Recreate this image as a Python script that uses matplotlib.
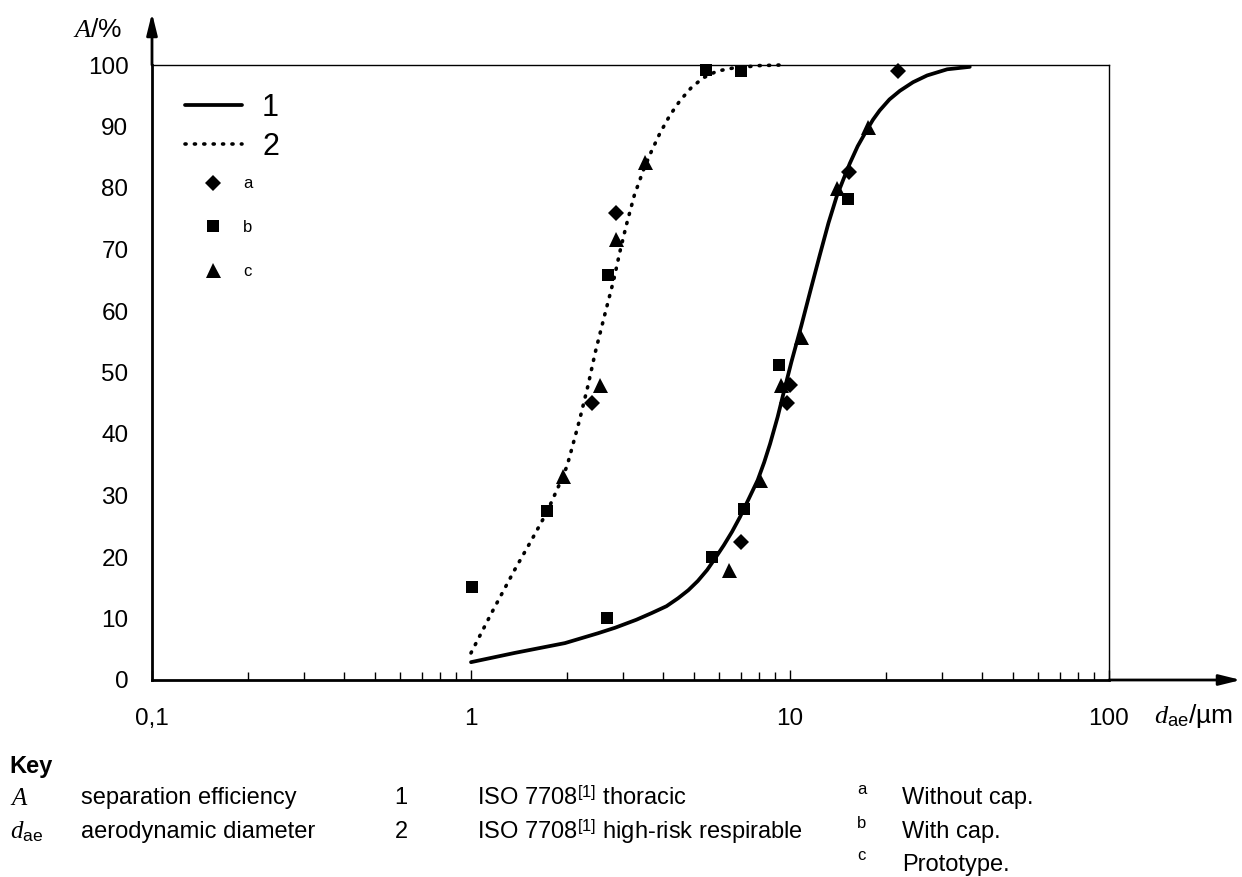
import matplotlib
matplotlib.use("Agg")
import matplotlib.pyplot as plt
from matplotlib.ticker import FixedLocator, FixedFormatter, LogLocator, NullFormatter

plt.rcParams['font.family'] = ['Liberation Sans', 'DejaVu Sans']
plt.rcParams['mathtext.fontset'] = 'custom'
plt.rcParams['mathtext.rm'] = 'Liberation Sans'
plt.rcParams['mathtext.it'] = 'Liberation Serif:italic'
plt.rcParams['mathtext.bf'] = 'Liberation Sans:bold'

# ---------------- data ----------------
thoracic_x = [1.0, 1.37, 1.97, 2.5, 2.83, 3.3, 3.69, 4.1, 4.46, 4.8, 5.14, 5.5, 5.81, 6.2,
              6.58, 6.97, 7.4, 7.92, 8.3, 8.66, 9.15, 9.55, 10.1, 10.85, 11.6, 12.4, 13.2,
              14.0, 14.7, 15.4, 16.3, 17.4, 18.2, 19.1, 20.5, 22.1, 24.3, 26.9, 31.1, 36.6]
thoracic_y = [2.9, 4.4, 6.0, 7.6, 8.5, 9.8, 10.9, 12.0, 13.3, 14.6, 16.1, 17.9, 19.7, 21.9,
              24.1, 26.5, 29.3, 32.5, 35.4, 38.4, 42.8, 46.7, 51.7, 57.6, 63.4, 69.1, 74.3,
              78.6, 81.4, 84.0, 86.8, 89.4, 91.1, 92.6, 94.4, 95.8, 97.2, 98.3, 99.3, 99.7]

respirable_x = [1.0, 1.16, 1.37, 1.55, 1.73, 1.90, 2.0, 2.07, 2.19, 2.33, 2.45, 2.62, 2.80,
                2.94, 3.07, 3.25, 3.47, 3.68, 3.91, 4.2, 4.52, 4.9, 5.34, 5.9, 6.62, 8.0, 9.4]
respirable_y = [4.4, 10.9, 17.9, 22.8, 27.3, 32.0, 34.8, 37.6, 42.3, 48.0, 53.2, 59.2, 65.0,
                70.0, 74.0, 78.8, 82.9, 86.0, 88.9, 91.8, 94.2, 96.3, 97.9, 99.0, 99.5, 99.9, 100.0]

a_x = [2.39, 2.85, 7.03, 9.8, 10.0, 15.3, 21.8]           # Without cap.
a_y = [45.0, 75.9, 22.4, 45.0, 48.0, 82.6, 99.1]
b_x = [1.01, 1.73, 2.69, 5.46, 7.0, 2.67, 5.69, 7.17, 9.25, 15.2]   # With cap.
b_y = [15.1, 27.5, 65.9, 99.2, 99.0, 10.1, 20.0, 27.8, 51.2, 78.2]
c_x = [1.94, 2.54, 2.85, 3.51, 6.44, 8.07, 9.4, 10.85, 14.0, 17.5]  # Prototype.
c_y = [33.2, 48.0, 71.7, 84.2, 17.9, 32.5, 48.0, 55.8, 80.0, 90.0]

curve_labels = ['1', '2']
marker_labels = ['a', 'b', 'c']
xtick_vals = [0.1, 1, 10, 100]
xtick_labels = ['0,1', '1', '10', '100']
ytick_vals = [0, 10, 20, 30, 40, 50, 60, 70, 80, 90, 100]

# ---------------- figure ----------------
W, H = 1242, 877
fig = plt.figure(figsize=(W / 100, H / 100), dpi=100)
fx = lambda px: px / W
fy = lambda py: 1 - py / H

ax = fig.add_axes([fx(152), fy(680), (1109 - 152) / W, (680 - 65) / H])
ax.set_xscale('log')
ax.set_xlim(0.1, 100)
ax.set_ylim(0, 100)

l1, = ax.plot(thoracic_x, thoracic_y, color='black', lw=2.7, solid_capstyle='round',
              solid_joinstyle='round', clip_on=False, zorder=3)
l2, = ax.plot(respirable_x, respirable_y, color='black', lw=2.6, linestyle=(0, (0.3, 2.3)),
              dash_capstyle='round', clip_on=False, zorder=3)

ma, = ax.plot(a_x, a_y, linestyle='none', marker='D', markersize=8.2, color='black',
              markeredgewidth=0, clip_on=False, zorder=4)
mb, = ax.plot(b_x, b_y, linestyle='none', marker='s', markersize=9.2, color='black',
              markeredgewidth=0, clip_on=False, zorder=4)
mc, = ax.plot(c_x, c_y, linestyle='none', marker='^', markersize=10.8, color='black',
              markeredgewidth=0, clip_on=False, zorder=4)

# spines
for s in ['left', 'bottom']:
    ax.spines[s].set_linewidth(2.0)
for s in ['top', 'right']:
    ax.spines[s].set_linewidth(1.0)

# ticks
ax.xaxis.set_major_locator(FixedLocator(xtick_vals))
ax.xaxis.set_major_formatter(FixedFormatter(xtick_labels))
ax.xaxis.set_minor_locator(LogLocator(base=10, subs=[2, 3, 4, 5, 6, 7, 8, 9]))
ax.xaxis.set_minor_formatter(NullFormatter())
ax.tick_params(axis='x', which='major', direction='in', length=7.5, width=1.0,
               labelsize=17.5, pad=20)
ax.tick_params(axis='x', which='minor', direction='in', length=6, width=1.0)
ax.set_yticks(ytick_vals)
ax.tick_params(axis='y', which='both', length=0, labelsize=17.5, pad=17)
ax.tick_params(top=False, right=False)

# axis arrows
arrow_kw = dict(arrowstyle='-|>,head_length=0.65,head_width=0.16', color='black', lw=2.0,
                shrinkA=0, shrinkB=0, mutation_scale=20)
ax.annotate('', xy=(0, (680 - 13) / 615), xytext=(0, 1.0), xycoords='axes fraction',
            arrowprops=arrow_kw)
ax.annotate('', xy=((1241 - 152) / 957, 0), xytext=(1.0, 0), xycoords='axes fraction',
            arrowprops=arrow_kw)

# axis labels
fig.text(fx(97.5), fy(30), r'$\mathit{A}$/%', fontsize=19, ha='center', va='center')
fig.text(fx(1154), fy(716), r'$\mathit{d}_{\mathrm{ae}}$/µm', fontsize=19, ha='left',
         va='center')

# legends
leg1 = ax.legend(handles=[l1, l2], labels=curve_labels, loc='upper left',
                 bbox_to_anchor=(fx(185), fy(93)), bbox_transform=fig.transFigure,
                 frameon=False, fontsize=22, handlelength=1.87, handletextpad=0.65,
                 labelspacing=0.28, borderpad=0, borderaxespad=0)
ax.add_artist(leg1)
leg2 = ax.legend(handles=[ma, mb, mc], labels=marker_labels, loc='upper left',
                 bbox_to_anchor=(fx(196.5), fy(176.5)), bbox_transform=fig.transFigure,
                 frameon=False, fontsize=12, handlelength=2.0, handletextpad=0.8,
                 labelspacing=1.72, borderpad=0, borderaxespad=0, numpoints=1)

# key
ks = 17
fig.text(fx(9), fy(766), 'Key', fontsize=ks, fontweight='bold', ha='left', va='center')
fig.text(fx(10), fy(798), r'$\mathit{A}$', fontsize=ks + 1, ha='left', va='center')
fig.text(fx(81), fy(798), 'separation efficiency', fontsize=ks, ha='left', va='center')
fig.text(fx(10), fy(832), r'$\mathit{d}_{\mathrm{ae}}$', fontsize=ks + 1, ha='left', va='center')
fig.text(fx(81), fy(832), 'aerodynamic diameter', fontsize=ks, ha='left', va='center')
fig.text(fx(401), fy(798), '1', fontsize=ks, ha='center', va='center')
fig.text(fx(401), fy(832), '2', fontsize=ks, ha='center', va='center')
fig.text(fx(477), fy(798), r'ISO 7708$^{[1]}$ thoracic', fontsize=ks, ha='left', va='center')
fig.text(fx(477), fy(832), r'ISO 7708$^{[1]}$ high-risk respirable', fontsize=ks, ha='left',
         va='center')
for lab, py, txt in zip(marker_labels, [798, 832, 865], ['Without cap.', 'With cap.', 'Prototype.']):
    fig.text(fx(857), fy(py - 9), lab, fontsize=12, ha='left', va='center')
    fig.text(fx(902), fy(py), txt, fontsize=ks, ha='left', va='center')

fig.savefig('out.png', dpi=100)
